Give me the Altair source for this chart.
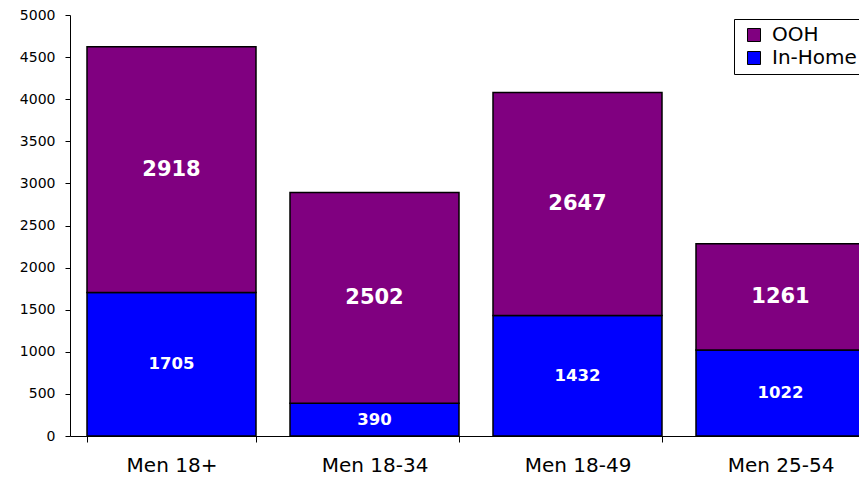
import altair as alt
import pandas as pd

categories = ["Men 18+", "Men 18-34", "Men 18-49", "Men 25-54"]
in_home = [1705, 390, 1432, 1022]
ooh = [2918, 2502, 2647, 1261]
series = ["OOH", "In-Home"]
colors = ["#800080", "#0000FF"]
y_ticks = list(range(0, 5001, 500))

rows = []
for c, h, o in zip(categories, in_home, ooh):
    rows.append({"cat": c, "series": "In-Home", "value": h, "y0": 0, "y1": h, "mid": h / 2, "ord": 0})
    rows.append({"cat": c, "series": "OOH", "value": o, "y0": h, "y1": h + o, "mid": h + o / 2, "ord": 1})
df = pd.DataFrame(rows)

FONT = "DejaVu Sans"

x_scale = alt.Scale(paddingInner=0.1675, paddingOuter=0.08375, range=[0, 812])

x_enc = alt.X("cat:N", sort=categories, scale=x_scale,
              axis=alt.Axis(title=None, labelAngle=0, tickBand="extent", tickSize=6,
                            labelFontSize=20, labelFont=FONT, labelColor="black",
                            labelPadding=13, domainColor="black", tickColor="black",
                            grid=False))

y_scale = alt.Scale(domain=[0, 5000], nice=False)

bars = alt.Chart(df).mark_bar(stroke="black", strokeWidth=1.5, opacity=1).encode(
    x=x_enc,
    y=alt.Y("y0:Q", scale=y_scale,
            axis=alt.Axis(title=None, values=y_ticks, format="d", grid=False, tickSize=5,
                          labelFontSize=14, labelFont=FONT, labelColor="black",
                          labelPadding=10, domainColor="black", tickColor="black")),
    y2="y1:Q",
    color=alt.Color("series:N",
                    scale=alt.Scale(domain=series, range=colors),
                    legend=alt.Legend(title=None, orient="none", legendX=664, legendY=4,
                                      symbolType="square", symbolSize=169,
                                      symbolStrokeColor="black", symbolStrokeWidth=1,
                                      symbolOpacity=1, symbolOffset=4,
                                      labelFontSize=20, labelFont=FONT, labelColor="black",
                                      labelOffset=8, rowPadding=3, padding=6,
                                      fillColor="white", strokeColor="black")),
    order="ord:Q",
)

big = alt.Chart(df).transform_filter(alt.datum.series == "OOH").mark_text(
    color="white", fontWeight="bold", fontSize=21, font=FONT, baseline="middle"
).encode(x=alt.X("cat:N", sort=categories, scale=x_scale),
         y=alt.Y("mid:Q", scale=y_scale), text="value:Q")

small = alt.Chart(df).transform_filter(alt.datum.series == "In-Home").mark_text(
    color="white", fontWeight="bold", fontSize=16.5, font=FONT, baseline="middle"
).encode(x=alt.X("cat:N", sort=categories, scale=x_scale),
         y=alt.Y("mid:Q", scale=y_scale), text="value:Q")

chart = alt.layer(bars, big, small).properties(
    width=789, height=421,
    autosize=alt.AutoSizeParams(type="none"),
    padding={"left": 62, "top": 7, "right": 0, "bottom": 40},
    background="white",
).configure_view(stroke=None)

chart.save("out.html", embed_options={"renderer": "svg", "actions": False})
